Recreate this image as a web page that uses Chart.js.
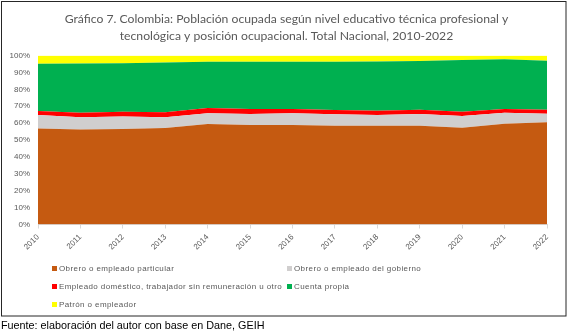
<!DOCTYPE html>
<html lang="es">
<head>
<meta charset="utf-8">
<title>Población ocupada por posición ocupacional</title>
<script src="https://cdn.jsdelivr.net/npm/chart.js@4/dist/chart.umd.min.js"></script>
<style>
  html, body { margin: 0; padding: 0; background: #fff; }
  canvas { display: block; }
</style>
</head>
<body>
<canvas id="posicionChart" width="573" height="334"></canvas>
<script>
// Años y participación (%) de cada posición ocupacional
const years = ["2010", "2011", "2012", "2013", "2014", "2015", "2016", "2017", "2018", "2019", "2020", "2021", "2022"];
const particular   = [56.9, 56.3, 56.5, 57.1, 59.5, 58.9, 58.9, 58.5, 58.5, 58.5, 57.3, 59.7, 60.5];
const gobierno     = [7.9, 7.2, 7.5, 6.4, 6.3, 6.5, 6.9, 6.7, 6.3, 6.9, 6.9, 6.5, 5.1];
const domestico    = [2.4, 2.7, 2.8, 2.9, 3.2, 3.0, 2.6, 2.6, 2.6, 2.6, 2.6, 2.2, 2.4];
const cuentaPropia = [27.9, 29.1, 28.7, 29.5, 27.3, 27.9, 27.9, 28.5, 29.1, 28.8, 30.6, 29.4, 29.0];
const patron       = [4.9, 4.7, 4.5, 4.1, 3.7, 3.7, 3.7, 3.7, 3.5, 3.2, 2.6, 2.2, 3.0];

const seriesNames = [
  "Obrero o empleado particular",
  "Obrero o empleado del gobierno",
  "Empleado doméstico, trabajador sin remuneración u otro",
  "Cuenta propia",
  "Patrón o empleador"
];
const seriesColors = ["#C55A11", "#D0CECE", "#FF0000", "#00B050", "#FFFF00"];
const yTicks = [0, 10, 20, 30, 40, 50, 60, 70, 80, 90, 100];

const gray = "#595959";

// leyenda en dos columnas, como la de Excel
const legendTwoCols = {
  id: "legendTwoCols",
  afterDraw(chart) {
    const ctx = chart.ctx;
    const colX = [52, 287];
    const rowY = [268.5, 286.5, 304.5];
    ctx.save();
    ctx.font = "8px 'Liberation Sans', Arial, sans-serif";
    ctx.letterSpacing = "0.4px";
    ctx.textBaseline = "middle";
    chart.data.datasets.forEach((ds, i) => {
      const x = colX[i % 2];
      const y = rowY[Math.floor(i / 2)];
      ctx.fillStyle = ds.backgroundColor;
      ctx.fillRect(x, y - 2.5, 5, 5);
      ctx.fillStyle = gray;
      ctx.fillText(ds.label, x + 7, y + 0.5);
    });
    ctx.restore();
  }
};

// marco del gráfico y nota de fuente
const frameAndSource = {
  id: "frameAndSource",
  afterDraw(chart) {
    const ctx = chart.ctx;
    ctx.save();
    ctx.strokeStyle = "#262626";
    ctx.lineWidth = 1;
    ctx.strokeRect(1.5, 1.5, 564.5, 314.5);
    ctx.fillStyle = "#000";
    ctx.font = "10.8px 'Liberation Sans', Arial, sans-serif";
    ctx.textBaseline = "middle";
    ctx.fillText("Fuente: elaboración del autor con base en Dane, GEIH", 1, 326);
    ctx.restore();
  }
};

const ctx = document.getElementById("posicionChart").getContext("2d");
const values = [particular, gobierno, domestico, cuentaPropia, patron];

new Chart(ctx, {
  type: "line",
  data: {
    labels: years,
    datasets: values.map((v, i) => ({
      label: seriesNames[i],
      data: v,
      backgroundColor: seriesColors[i],
      borderColor: seriesColors[i],
      borderWidth: 0,
      pointRadius: 0,
      tension: 0,
      fill: i === 0 ? "origin" : "-1"
    }))
  },
  options: {
    responsive: false,
    animation: false,
    layout: { padding: { left: 0, right: 0, top: 0, bottom: 70 } },
    scales: {
      x: {
        offset: false,
        grid: { display: true, drawOnChartArea: false, color: "#d9d9d9", tickLength: 4 },
        border: { color: "#d9d9d9" },
        ticks: {
          color: gray,
          font: { size: 8, family: "'Liberation Sans', Arial, sans-serif" },
          minRotation: 45,
          maxRotation: 45,
          padding: 4
        },
        afterFit(scale) { scale.height = 39.5; }
      },
      y: {
        stacked: true,
        min: 0,
        max: 100,
        afterBuildTicks(scale) { scale.ticks = yTicks.map(v => ({ value: v })); },
        grid: { display: false, drawTicks: false },
        border: { display: false },
        ticks: {
          color: gray,
          padding: 8,
          font: { size: 8, family: "'Liberation Sans', Arial, sans-serif" },
          callback: v => v + "%"
        },
        afterFit(scale) { scale.width = 38; }
      },
      // eje vacío a la derecha: deja el margen sin descentrar el título
      yRight: {
        position: "right",
        display: true,
        grid: { display: false, drawTicks: false },
        border: { display: false },
        ticks: { display: false },
        afterFit(scale) { scale.width = 26; }
      }
    },
    plugins: {
      legend: { display: false },
      tooltip: { enabled: false },
      title: {
        display: true,
        text: [
          "Gráfico 7. Colombia: Población ocupada según nivel educativo técnica profesional y",
          "tecnológica y posición ocupacional. Total Nacional, 2010-2022"
        ],
        color: gray,
        font: { size: 12.2, family: "Lato, 'Open Sans', sans-serif", weight: "normal", lineHeight: 1.38 },
        padding: { top: 10.4, bottom: 11.5 }
      }
    }
  },
  plugins: [legendTwoCols, frameAndSource]
});
</script>
</body>
</html>
